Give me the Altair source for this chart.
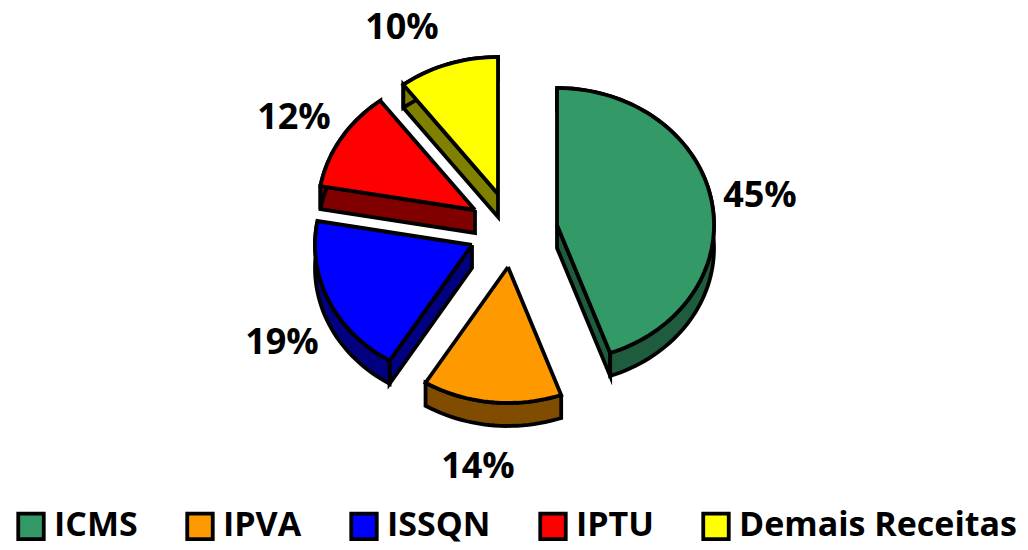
import math
import altair as alt
import pandas as pd

names = ["ICMS", "IPVA", "ISSQN", "IPTU", "Demais Receitas"]
shares = [44.5, 14.3, 19.0, 11.9, 10.3]
colors = ["#339966", "#FF9900", "#0000FF", "#FF0000", "#FFFF00"]
side_colors = ["#1F5C3D", "#804D00", "#000080", "#800000", "#808000"]
labels = ["45%", "14%", "19%", "12%", "10%"]

# exploded slice apexes and label anchors, in page pixels
apex_x = [557, 508, 472, 475, 498]
apex_y = [225, 267, 245, 210, 194]
label_x = [760, 478, 282, 294, 402]
label_y = [196, 467, 343, 118, 28]
RX, RY_BACK, RY_FRONT, DEPTH = 157, 137, 136, 23

FONT = "Open Sans"


def rim(i, a, dy=0):
    t = math.radians(a)
    c = math.cos(t)
    ry = RY_BACK if c > 0 else RY_FRONT
    return apex_x[i] + RX * math.sin(t), apex_y[i] - ry * c + dy


tops, sides = [], []


def add(rows, key, pts, **extra):
    for k, (x, y) in enumerate(pts + pts[:1]):
        rows.append(dict(poly=key, i=k, x=x, y=y, **extra))


start = 0.0
for i, s in enumerate(shares):
    end = start + s * 3.6
    n = max(int(s * 3.6 / 2), 2)
    angs = [start + (end - start) * j / n for j in range(n + 1)]
    arc = [rim(i, a) for a in angs]
    arc_low = [rim(i, a, DEPTH) for a in angs]
    ap = (apex_x[i], apex_y[i])
    ap_low = (apex_x[i], apex_y[i] + DEPTH)
    # a cut face shows only when it turns towards the viewer
    if 180 < start < 360:
        add(sides, f"{i}a", [ap, arc[0], arc_low[0], ap_low], side=side_colors[i])
    if 0 < end < 180:
        add(sides, f"{i}b", [ap, arc[-1], arc_low[-1], ap_low], side=side_colors[i])
    add(sides, f"{i}c", arc + arc_low[::-1], side=side_colors[i])
    add(tops, f"{i}t", [ap] + arc, name=names[i])
    start = end

xs = alt.Scale(domain=[8, 1020], nice=False, zero=False)
ys = alt.Scale(domain=[550, 8], nice=False, zero=False)
X = alt.X("x:Q", scale=xs, axis=None)
Y = alt.Y("y:Q", scale=ys, axis=None)

side_layer = alt.Chart(pd.DataFrame(sides)).mark_line(
    stroke="black", strokeWidth=3.8, strokeJoin="miter", strokeMiterLimit=6
).encode(
    x=X, y=Y, detail="poly:N", order=alt.Order("i:Q"),
    fill=alt.Fill("side:N", scale=None),
)

top_layer = alt.Chart(pd.DataFrame(tops)).mark_line(
    stroke="black", strokeWidth=3.8, strokeJoin="miter", strokeMiterLimit=6
).encode(
    x=X, y=Y, detail="poly:N", order=alt.Order("i:Q"),
    fill=alt.Fill(
        "name:N",
        sort=names,
        scale=alt.Scale(domain=names, range=colors),
        legend=alt.Legend(
            title=None,
            orient="none",
            legendX=6,
            legendY=501,
            direction="horizontal",
            columns=5,
            columnPadding=41,
            symbolType="square",
            symbolSize=650,
            symbolStrokeColor="black",
            symbolStrokeWidth=3.8,
            symbolOpacity=1,
            labelFont=FONT,
            labelFontWeight="bold",
            labelFontSize=34,
            labelColor="black",
            labelOffset=6,
            labelLimit=400,
            padding=0,
        ),
    ),
)

text_layer = alt.Chart(pd.DataFrame({"x": label_x, "y": label_y, "t": labels})).mark_text(
    font=FONT, fontWeight="bold", fontSize=36, color="black", align="center", baseline="middle"
).encode(x=X, y=Y, text="t:N")

chart = alt.layer(side_layer, top_layer, text_layer).resolve_scale(fill="independent").properties(
    width=1012,
    height=542,
    padding=0,
    autosize=alt.AutoSizeParams(type="none"),
).configure_view(stroke=None)

chart.save("out.html", embed_options={"renderer": "svg", "actions": False})
